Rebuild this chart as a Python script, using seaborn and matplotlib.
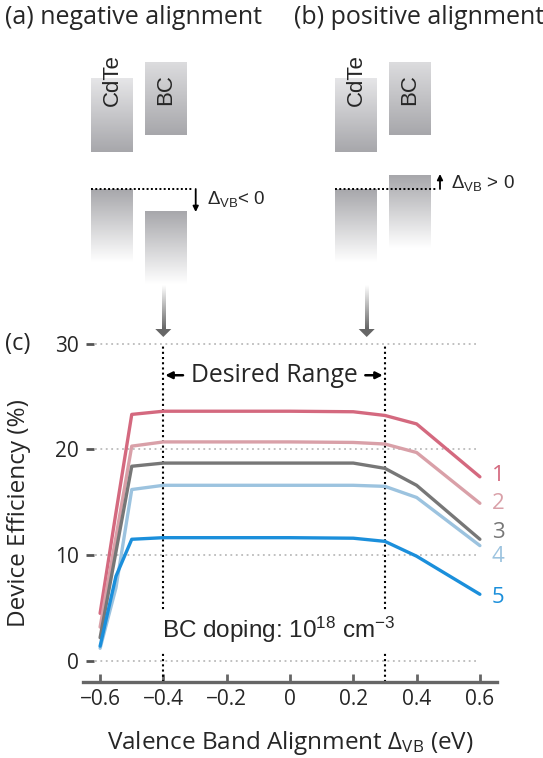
import numpy as np
import pandas as pd
import matplotlib
matplotlib.use('Agg')
import matplotlib.pyplot as plt
from matplotlib.colors import LinearSegmentedColormap
from matplotlib.patches import Polygon
import seaborn as sns

# ---------------------------------------------------------------
# data
# ---------------------------------------------------------------
dvb = [-0.6, -0.55, -0.5, -0.4, -0.2, 0.0, 0.2, 0.3, 0.4, 0.6]
eff_1 = [4.5, 14.0, 23.3, 23.6, 23.6, 23.6, 23.55, 23.2, 22.4, 17.4]
eff_2 = [3.2, 11.7, 20.3, 20.7, 20.7, 20.7, 20.65, 20.5, 19.7, 14.9]
eff_3 = [2.2, 10.3, 18.4, 18.7, 18.7, 18.7, 18.7, 18.2, 16.6, 11.5]
eff_4 = [1.2, 6.9, 16.2, 16.6, 16.6, 16.6, 16.6, 16.5, 15.45, 10.9]
eff_5 = [1.4, 8.0, 11.5, 11.65, 11.65, 11.65, 11.6, 11.3, 9.9, 6.3]
series_names = ['1', '2', '3', '4', '5']
series_colors = ['#d4697f', '#d9a0a8', '#777777', '#9cc3df', '#1b8fdb']
desired_range = [-0.4, 0.3]
yticks = [0, 10, 20, 30]
xticks = [-0.6, -0.4, -0.2, 0, 0.2, 0.4, 0.6]
xtick_labels = ['\u22120.6', '\u22120.4', '\u22120.2', '0', '0.2', '0.4', '0.6']

# label offsets from line ends (layout only)
label_dy = [0.1, 0.0, 0.6, -1.0, -0.3]

df = pd.concat([
    pd.DataFrame({'dvb': dvb, 'eff': vals, 'series': name})
    for name, vals in zip(series_names, [eff_1, eff_2, eff_3, eff_4, eff_5])
])

# ---------------------------------------------------------------
# style
# ---------------------------------------------------------------
sns.set_style('white')
plt.rcParams['font.family'] = ['Open Sans', 'DejaVu Sans']
plt.rcParams['mathtext.default'] = 'regular'
ARIAL = ['Liberation Sans', 'DejaVu Sans']

W, H = 543, 758
fig = plt.figure(figsize=(W / 100, H / 100), dpi=100)

# overlay in pixel coords for the band schematic
ov = fig.add_axes([0, 0, 1, 1], zorder=0)
ov.axis('off')

BAND_GRAY = '#a7a7ab'


def grad_box(x0, x1, y0, y1, c_top, c_bot):
    cmap = LinearSegmentedColormap.from_list('g', [c_top, c_bot])
    ov.imshow(np.linspace(0, 1, 256).reshape(-1, 1), cmap=cmap,
              extent=(x0, x1, y1, y0), aspect='auto', interpolation='bilinear')


def gray_arrow(x, y0, y1):
    cmap = LinearSegmentedColormap.from_list('a', ['#ffffff', '#666666'])
    ov.imshow(np.linspace(0, 1, 256).reshape(-1, 1), cmap=cmap,
              extent=(x - 1.6, x + 1.6, y1 - 8, y0), aspect='auto')
    ov.add_patch(Polygon([(x - 8, y1 - 8), (x + 8, y1 - 8), (x, y1)],
                         closed=True, fc='#666666', ec='none'))


# panel (a): negative alignment
grad_box(91, 133, 78, 152, '#e6e6e8', BAND_GRAY)
grad_box(145, 187, 62, 135, '#dcdcde', BAND_GRAY)
grad_box(91, 133, 189, 262, BAND_GRAY, '#ffffff')
grad_box(145, 187, 211, 284, BAND_GRAY, '#ffffff')
ov.plot([91, 193], [189, 189], ls=(0, (1, 1.2)), color='black', lw=1.4)
ov.annotate('', xy=(195.7, 212), xytext=(195.7, 189),
            arrowprops=dict(arrowstyle='-|>', color='black', lw=1.3,
                            mutation_scale=8, shrinkA=0, shrinkB=0))
ov.text(207, 199, '\u0394$_{VB}$< 0', family=ARIAL, fontsize=13.5, va='center')
ov.text(112, 80, 'CdTe', family=ARIAL, fontsize=16, rotation=90,
        ha='center', va='center')
ov.text(166, 90, 'BC', family=ARIAL, fontsize=16, rotation=90,
        ha='center', va='center')
gray_arrow(163.3, 285, 337)

# panel (b): positive alignment
grad_box(335, 377, 78, 152, '#e6e6e8', BAND_GRAY)
grad_box(389, 431, 62, 135, '#dcdcde', BAND_GRAY)
grad_box(335, 377, 189, 262, BAND_GRAY, '#ffffff')
grad_box(389, 431, 175, 248, BAND_GRAY, '#ffffff')
ov.plot([335, 437], [189, 189], ls=(0, (1, 1.2)), color='black', lw=1.4)
ov.annotate('', xy=(440, 174), xytext=(440, 189),
            arrowprops=dict(arrowstyle='-|>', color='black', lw=1.3,
                            mutation_scale=8, shrinkA=0, shrinkB=0))
ov.text(451, 183, '\u0394$_{VB}$ > 0', family=ARIAL, fontsize=13.5, va='center')
ov.text(356.5, 80, 'CdTe', family=ARIAL, fontsize=16, rotation=90,
        ha='center', va='center')
ov.text(410, 90, 'BC', family=ARIAL, fontsize=16, rotation=90,
        ha='center', va='center')
gray_arrow(366.7, 285, 337)

ov.set_xlim(0, W)
ov.set_ylim(H, 0)

fig.text(5 / W, 1 - 17 / H, '(a) negative alignment', fontsize=18, va='center')
fig.text(294 / W, 1 - 17 / H, '(b) positive alignment', fontsize=18, va='center')
fig.text(5 / W, 1 - 344 / H, '(c)', fontsize=17, va='center')

# ---------------------------------------------------------------
# main chart (c)
# ---------------------------------------------------------------
ax = fig.add_axes([82.7 / W, 1 - 681.7 / H, 414.6 / W, 338.2 / H], zorder=1)
ax.patch.set_alpha(0)

ax.hlines(yticks, -0.616, 0.59, colors='#bbbbbb', linestyles=(0, (1, 2)),
          lw=1.3, zorder=0, clip_on=False)
ax.vlines(desired_range, -1.96, 30, colors='black', linestyles=(0, (1, 1.5)),
          lw=1.5, zorder=1, clip_on=False)

sns.lineplot(data=df, x='dvb', y='eff', hue='series',
             palette=dict(zip(series_names, series_colors)),
             lw=2.4, legend=False, ax=ax, sort=False, zorder=3)

ax.set_xlim(-0.655, 0.655)
ax.set_ylim(-1.96, 30)
ax.set_xticks(xticks, xtick_labels)
ax.set_yticks(yticks)

for side in ['left', 'right', 'top']:
    ax.spines[side].set_visible(False)
ax.spines['left'].set_position(('data', -0.62))
ax.spines['bottom'].set_color('#666666')
ax.spines['bottom'].set_linewidth(2.4)
ax.tick_params(axis='y', direction='out', length=6, width=2, color='#555555',
               pad=5, labelsize=15, left=True)
ax.tick_params(axis='x', direction='in', length=6, width=2, color='#666666',
               pad=5, labelsize=15, bottom=True)

ax.set_xlabel('Valence Band Alignment \u0394$_{VB}$ (eV)', fontsize=17.5)
ax.set_ylabel('Device Efficiency (%)', fontsize=17.5)
ax.xaxis.set_label_coords(0.5, -0.14)
ax.xaxis.label.set_va('top')
ax.yaxis.set_label_coords(-0.125, 0.5)

# desired range annotation
ax.text(np.mean(desired_range), 27, 'Desired Range', ha='center',
        va='center', fontsize=17.8)
ax.annotate('', xy=(desired_range[0] + 0.006, 27), xytext=(-0.338, 27),
            arrowprops=dict(arrowstyle='-|>', color='black', lw=1.8,
                            mutation_scale=10, shrinkA=0, shrinkB=0))
ax.annotate('', xy=(desired_range[1] - 0.007, 27), xytext=(0.238, 27),
            arrowprops=dict(arrowstyle='-|>', color='black', lw=1.8,
                            mutation_scale=10, shrinkA=0, shrinkB=0))

ax.text(-0.405, 2.9, 'BC doping: 10$^{18}$ cm$^{-3}$', family=ARIAL,
        fontsize=17.5, ha='left', va='center', zorder=4,
        bbox=dict(fc='white', ec='none', pad=4))

# series labels at the line ends
for name, vals, c, dy in zip(series_names, [eff_1, eff_2, eff_3, eff_4, eff_5],
                             series_colors, label_dy):
    ax.text(0.637, vals[-1] + dy, name, color=c, fontsize=16,
            ha='left', va='center', clip_on=False)

fig.savefig('out.png', dpi=100)
